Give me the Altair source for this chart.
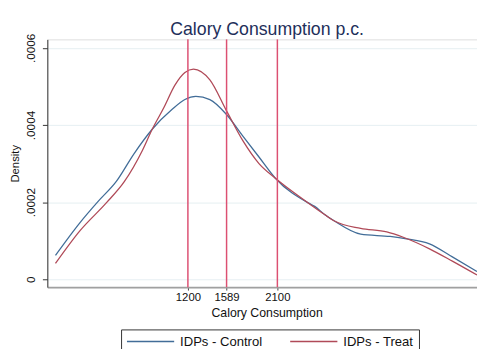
import altair as alt
import pandas as pd

# Kernel density estimates
control_x = [-132, 115, 297, 478, 659, 841, 1039, 1170, 1280, 1421, 1586, 1751, 1915, 2080,
             2410, 2476, 2575, 2674, 2938, 3234, 3399, 3630, 3860, 4108]
control_y = [0.000062, 0.000147, 0.000202, 0.000253, 0.000326, 0.000389, 0.000440, 0.000466,
             0.000474, 0.000466, 0.000428, 0.000372, 0.000317, 0.000262, 0.000198, 0.000189,
             0.000168, 0.000151, 0.000117, 0.000111, 0.000105, 0.000092, 0.000058, 0.000020]

treat_x = [-132, 115, 379, 560, 742, 841, 956, 1071, 1170, 1256, 1421, 1586, 1751, 1915,
           2080, 2410, 2575, 2674, 2938, 3201, 3366, 3630, 3860, 4108]
treat_y = [0.000041, 0.000126, 0.000198, 0.000253, 0.000334, 0.000389, 0.000444, 0.000504,
           0.000536, 0.000545, 0.000517, 0.000438, 0.000360, 0.000300, 0.000262, 0.000198,
           0.000168, 0.000151, 0.000132, 0.000123, 0.000109, 0.000079, 0.000047, 0.000011]

series_names = ["IDPs - Control", "IDPs - Treat"]
series_colors = ["#426d98", "#b04a58"]
cutoffs = [1200, 1589, 2100]
y_ticks = [0, 0.0002, 0.0004, 0.0006]

df = pd.concat([
    pd.DataFrame({"cal": control_x, "density": control_y, "group": series_names[0]}),
    pd.DataFrame({"cal": treat_x, "density": treat_y, "group": series_names[1]}),
])
rules_df = pd.DataFrame({"cal": cutoffs})

FONT = "Liberation Sans"

x_scale = alt.Scale(domain=[-214, 4108], nice=False, zero=False)
y_scale = alt.Scale(domain=[-0.0000204, 0.000622], nice=False, zero=False)

lines = alt.Chart(df).mark_line(strokeWidth=1.3, interpolate="monotone", clip=True).encode(
    x=alt.X("cal:Q", scale=x_scale,
            axis=alt.Axis(values=cutoffs, format="d", title="Calory Consumption", grid=False,
                          labelFontSize=11.5, titleFontSize=12.5, titleFontWeight="normal",
                          labelFont=FONT, titleFont=FONT, labelColor="#111", titleColor="#111",
                          domainColor="#a0a0a0", domainWidth=2, tickColor="#444", tickSize=3,
                          labelPadding=2, titlePadding=3, titleX=223, labelFlush=False)),
    y=alt.Y("density:Q", scale=y_scale,
            axis=alt.Axis(values=y_ticks, title="Density", grid=True, gridColor="#e6eff2",
                          gridWidth=1, labelAngle=-90, labelAlign="center", labelBaseline="bottom",
                          labelExpr="datum.value == 0 ? '0' : replace(format(datum.value, '.4f'), '0.', '.')",
                          labelFontSize=12, titleFontSize=11.5, titleFontWeight="normal",
                          labelFont=FONT, titleFont=FONT, labelColor="#111", titleColor="#111",
                          domainColor="#333", domainWidth=1, tickColor="#333", tickSize=5,
                          labelPadding=5, titlePadding=4)),
    color=alt.Color("group:N", scale=alt.Scale(domain=series_names, range=series_colors),
                    legend=alt.Legend(orient="none", legendX=75, legendY=295, direction="horizontal",
                                      title=None, symbolType="M-1,0H7", symbolSize=144,
                                      symbolStrokeWidth=1.5, labelFontSize=13.3, labelFont=FONT,
                                      labelColor="#111", strokeColor="#333", padding=5,
                                      columnPadding=25, labelOffset=41, fillColor="white")),
)

rules = alt.Chart(rules_df).mark_rule(color="#dc5072", strokeWidth=1.5).encode(
    x=alt.X("cal:Q", scale=x_scale)
)

chart = alt.layer(lines, rules).properties(
    width=437,
    height=252,
    title=alt.TitleParams("Calory Consumption p.c.", fontSize=18, font=FONT, fontWeight="normal",
                          color="#1e2f5a", anchor="middle", baseline="alphabetic", offset=2,
                          dx=5, dy=22),
    autosize=alt.AutoSizeParams(type="none"),
    padding={"left": 40, "top": 29, "right": 0, "bottom": 60},
).configure_view(stroke=None).configure(background="white")

chart.save("out.html", embed_options={"renderer": "svg", "actions": False})
